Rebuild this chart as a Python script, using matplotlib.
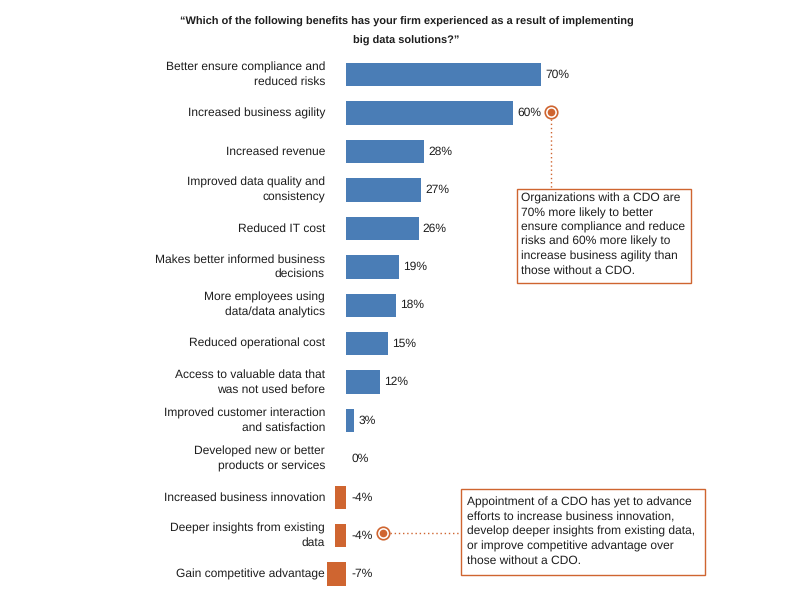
import matplotlib
matplotlib.use("Agg")
import matplotlib.pyplot as plt
from matplotlib.patches import Rectangle
from matplotlib.transforms import blended_transform_factory

plt.rcParams['font.family'] = ['Liberation Sans', 'DejaVu Sans']
plt.rcParams['text.hinting'] = 'no_hinting'
plt.rcParams['text.hinting_factor'] = 1

categories = [
    "Better ensure compliance and\nreduced risks",
    "Increased business agility",
    "Increased revenue",
    "Improved data quality and\nconsistency",
    "Reduced IT cost",
    "Makes better informed business\ndecisions",
    "More employees using\ndata/data analytics",
    "Reduced operational cost",
    "Access to valuable data that\nwas not used before",
    "Improved customer interaction\nand satisfaction",
    "Developed new or better\nproducts or services",
    "Increased business innovation",
    "Deeper insights from existing\ndata",
    "Gain competitive advantage",
]
values = [70, 60, 28, 27, 26, 19, 18, 15, 12, 3, 0, -4, -4, -7]
value_labels = ["70%", "60%", "28%", "27%", "26%", "19%", "18%", "15%", "12%",
                "3%", "0%", "-4%", "-4%", "-7%"]
title_lines = ["\u201cWhich of the following benefits has your firm experienced as a result of implementing",
               "big data solutions?\u201d"]
note_top = ("Organizations with a CDO are\n70% more likely to better\nensure compliance and reduce\n"
            "risks and 60% more likely to\nincrease business agility than\nthose without a CDO.")
note_bottom = ("Appointment of a CDO has yet to advance\nefforts to increase business innovation,\n"
               "develop deeper insights from existing data,\nor improve competitive advantage over\n"
               "those without a CDO.")

BLUE = "#4A7DB6"
ORANGE = "#CF6530"
TXT = "#1e1e1e"
W, H = 812, 611

fig = plt.figure(figsize=(W / 100, H / 100), dpi=100)
ax = fig.add_axes([0.3918, 0.0288, 0.378, 0.8803])

def fx(px):
    return px / W

def fy(py):
    return 1 - py / H

ypos = list(range(len(categories)))
colors = [BLUE if v >= 0 else ORANGE for v in values]
ax.barh(ypos, values, height=0.61, color=colors)
ax.set_xlim(-10, 100)
ax.set_ylim(len(categories) - 0.5, -0.5)
ax.axis('off')

FS = 8.7
lab_tr = blended_transform_factory(fig.transFigure, ax.transData)
for y, c in zip(ypos, categories):
    ax.text(fx(325), y, c, transform=lab_tr, ha='right', va='center',
            fontsize=FS, color=TXT, linespacing=1.42)

for y, v, lab in zip(ypos, values, value_labels):
    x0 = v if v > 0 else 0
    off = 3.0 if v > 0 else 3.8
    ax.annotate(lab, (x0, y), xytext=(off, 0), textcoords='offset points',
                ha='left', va='center', fontsize=FS, color=TXT)

fig.text(fx(406.5), fy(22), title_lines[0], ha='center', va='center',
         fontsize=8.0, fontweight='bold', color=TXT)
fig.text(fx(406.5), fy(41), title_lines[1], ha='center', va='center',
         fontsize=8.0, fontweight='bold', color=TXT)

# callout 1
fig.add_artist(Rectangle((fx(517), fy(283)), fx(691) - fx(517), fy(189) - fy(283),
                         transform=fig.transFigure, fill=False, edgecolor=ORANGE, lw=1.0))
fig.text(fx(521), fy(193), note_top, ha='left', va='top', fontsize=FS,
         color=TXT, linespacing=1.37)
fig.add_artist(plt.Line2D([fx(551), fx(551)], [fy(119), fy(189)], transform=fig.transFigure,
                          color=ORANGE, lw=1.0, linestyle=(0, (1, 2))))
fig.add_artist(plt.Line2D([fx(551)], [fy(112)], transform=fig.transFigure, marker='o',
                          markersize=9, mfc='white', mec=ORANGE, mew=1.2, linestyle='none'))
fig.add_artist(plt.Line2D([fx(551)], [fy(112)], transform=fig.transFigure, marker='o',
                          markersize=4.5, mfc=ORANGE, mec=ORANGE, linestyle='none'))

# callout 2
fig.add_artist(Rectangle((fx(461), fy(575)), fx(705) - fx(461), fy(489) - fy(575),
                         transform=fig.transFigure, fill=False, edgecolor=ORANGE, lw=1.0))
fig.text(fx(467), fy(497), note_bottom, ha='left', va='top', fontsize=FS,
         color=TXT, linespacing=1.38)
fig.add_artist(plt.Line2D([fx(390), fx(461)], [fy(533), fy(533)], transform=fig.transFigure,
                          color=ORANGE, lw=1.0, linestyle=(0, (1, 2))))
fig.add_artist(plt.Line2D([fx(383)], [fy(533)], transform=fig.transFigure, marker='o',
                          markersize=9, mfc='white', mec=ORANGE, mew=1.2, linestyle='none'))
fig.add_artist(plt.Line2D([fx(383)], [fy(533)], transform=fig.transFigure, marker='o',
                          markersize=4.5, mfc=ORANGE, mec=ORANGE, linestyle='none'))

fig.savefig("out.png", dpi=100)
